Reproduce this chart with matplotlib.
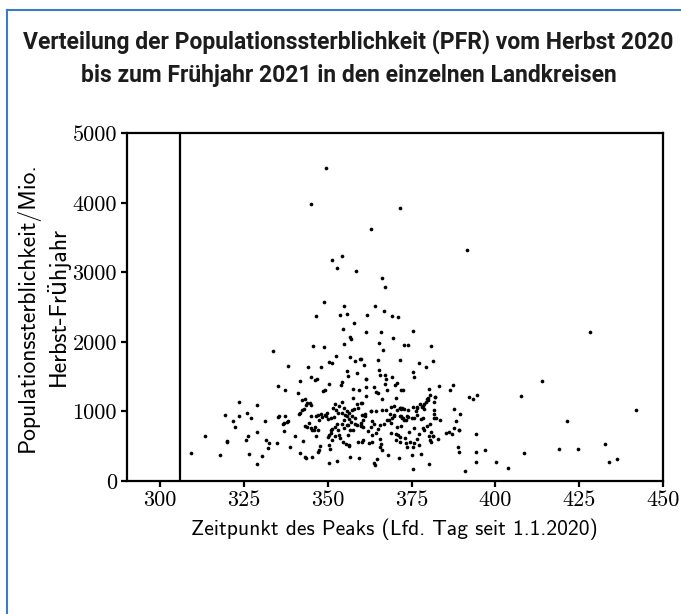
import matplotlib
matplotlib.use('Agg')
import matplotlib.pyplot as plt
from matplotlib.lines import Line2D
import numpy as np

# Peak day (days since 1.1.2020) and mortality per million
peak_day = [
    349.4, 345.0, 371.4, 362.9, 391.6, 351.3, 354.3, 352.6, 358.5, 366.2,
    367.1, 349.0, 354.9, 346.4, 353.5, 355.6, 364.2, 366.9, 369.1, 371.0,
    357.8, 361.7, 354.6, 356.7, 356.8, 361.5, 366.0, 369.5, 375.3, 333.6,
    345.5, 349.0, 354.8, 365.2, 372.7, 374.0, 380.9, 338.0, 344.1, 348.0,
    350.3, 351.4, 352.5, 356.5, 358.1, 359.5, 359.9, 360.8, 366.6, 364.9,
    371.4, 377.2, 379.4, 381.4, 375.3, 375.7, 335.1, 337.1, 341.7, 345.0,
    346.2, 346.7, 348.7, 349.2, 350.4, 353.9, 354.2, 355.6, 356.0, 358.8,
    357.6, 359.2, 361.5, 361.5, 361.4, 363.9, 364.3, 364.9, 365.2, 365.6,
    366.1, 367.1, 367.3, 367.0, 367.8, 369.3, 370.1, 370.6, 371.8, 372.3,
    370.4, 380.1, 380.0, 383.1, 381.9, 386.4, 387.2, 392.1, 393.3, 394.4,
    387.7, 389.5, 388.2, 389.0, 394.1, 387.1, 385.2, 386.3, 383.0, 380.9,
    381.3, 380.1, 380.8, 379.7, 380.5, 381.8, 382.2, 383.4, 381.7, 381.7,
    379.9, 380.4, 378.4, 378.7, 378.4, 377.7, 378.3, 378.6, 377.3, 376.5,
    375.7, 375.3, 377.3, 377.7, 375.0, 375.4, 380.3, 375.7, 374.2, 374.0,
    375.7, 376.6, 372.2, 371.5, 369.0, 369.7, 368.6, 367.3, 367.8, 371.5,
    372.2, 372.8, 373.4, 370.6, 371.7, 370.4, 370.8, 371.4, 371.6, 370.2,
    373.0, 373.2, 374.6, 373.7, 371.1, 368.8, 368.8, 366.9, 365.6, 365.0,
    363.9, 364.3, 363.2, 363.2, 365.5, 365.8, 365.6, 366.1, 364.8, 363.9,
    364.0, 368.1, 362.9, 363.3, 362.9, 361.2, 360.7, 361.9, 360.4, 359.8,
    360.0, 360.6, 360.3, 362.3, 359.0, 359.3, 356.6, 358.6, 359.1, 360.1,
    357.6, 357.9, 357.1, 357.2, 358.2, 358.1, 358.8, 356.3, 355.6, 354.7,
    354.3, 354.2, 355.0, 355.6, 354.9, 356.3, 357.0, 355.6, 356.0, 356.5,
    357.6, 354.7, 354.1, 353.2, 352.1, 351.7, 352.4, 352.9, 352.7, 352.1,
    351.4, 351.1, 352.9, 353.2, 352.2, 350.9, 350.4, 350.1, 351.4, 353.7,
    354.5, 355.3, 356.4, 356.2, 355.9, 350.3, 350.7, 350.3, 352.8, 349.5,
    349.1, 348.1, 347.1, 346.4, 347.4, 348.4, 349.9, 350.2, 350.9, 351.9,
    346.2, 345.9, 345.4, 344.9, 343.7, 343.2, 347.1, 346.6, 347.7, 347.1,
    347.5, 345.4, 343.6, 343.3, 341.7, 342.5, 340.3, 338.8, 341.3, 341.6,
    342.3, 343.0, 343.6, 343.9, 344.8, 344.9, 342.2, 343.1, 341.0, 344.4,
    344.9, 336.6, 337.0, 337.8, 338.2, 337.3, 335.0, 335.3, 336.8, 334.9,
    332.5, 332.3, 331.5, 331.2, 330.3, 328.8, 328.8, 328.9, 327.1, 326.6,
    325.6, 326.1, 325.8, 323.6, 323.4, 322.4, 321.8, 319.3, 319.9, 319.8,
    317.9, 313.4, 309.3,
    414.0, 407.7, 428.2, 421.4, 441.9, 419.0, 424.6, 432.7, 433.8, 436.4,
    408.6, 403.9, 400.3, 397.0, 394.3, 394.2, 388.9, 389.0, 390.9,
    361.4, 382.0, 381.8, 379.6, 379.3, 387.6, 389.2, 381.5, 380.4,
    359.8, 361.1, 360.3, 360.6, 359.8, 362.8, 364.5, 366.1,
    369.7, 370.5, 369.7, 369.2, 368.2, 371.4, 371.9, 372.7, 372.5, 371.7,
    373.5, 373.9, 375.2, 375.4, 376.7, 376.2, 376.7, 377.5, 378.0, 378.6,
]
mortality = [
    4503, 3981, 3924, 3622, 3315, 3176, 3229, 3061, 3013, 2918,
    2788, 2573, 2510, 2367, 2386, 2405, 2520, 2439, 2376, 2357,
    2276, 2391, 2185, 2065, 2041, 2137, 2146, 2060, 2151, 1869,
    1945, 1931, 1969, 1984, 1955, 1960, 1945, 1648, 1639, 1634,
    1706, 1696, 1792, 1782, 1730, 1758, 1749, 1672, 1878, 1744,
    1739, 1696, 1639, 1730, 1567, 1500, 1361, 1303, 1437, 1500,
    1452, 1471, 1289, 1308, 1390, 1371, 1418, 1581, 1514, 1552,
    1327, 1308, 1461, 1346, 1217, 1356, 1275, 1260, 1591, 1519,
    1179, 1390, 1461, 1524, 1299, 1490, 1380, 1404, 1308, 1303,
    1188, 1318, 1169, 1361, 1207, 1308, 1380, 1203, 1179, 1232,
    1030, 963, 853, 729, 676, 671, 690, 695, 595, 700,
    638, 647, 561, 791, 820, 901, 906, 877, 1025, 958,
    1193, 1241, 1069, 1030, 901, 882, 753, 729, 676, 599,
    542, 480, 508, 389, 374, 173, 245, 762, 700, 1011,
    901, 1045, 1050, 1040, 1059, 925, 963, 1021, 877, 925,
    901, 872, 877, 772, 781, 676, 652, 623, 561, 585,
    609, 542, 561, 480, 331, 686, 824, 815, 796, 743,
    820, 686, 657, 556, 595, 532, 480, 446, 312, 250,
    226, 365, 1006, 867, 777, 925, 949, 719, 767, 829,
    781, 590, 551, 542, 561, 331, 341, 1107, 1045, 1117,
    1184, 1030, 1021, 925, 901, 820, 805, 982, 1006, 1050,
    1126, 978, 944, 935, 877, 887, 848, 796, 805, 733,
    733, 757, 810, 1069, 1102, 1045, 1021, 973, 820, 772,
    748, 733, 733, 657, 647, 686, 652, 628, 580, 609,
    551, 532, 518, 494, 661, 508, 456, 254, 278, 925,
    949, 958, 949, 925, 877, 911, 973, 891, 901, 915,
    767, 733, 724, 757, 772, 786, 724, 637, 494, 408,
    446, 336, 331, 345, 393, 566, 647, 484, 954, 968,
    1011, 1035, 1093, 1117, 1117, 1088, 1155, 1174, 1260, 829,
    925, 820, 829, 839, 867, 925, 911, 925, 709, 542,
    542, 470, 590, 867, 360, 240, 695, 1093, 896, 384,
    590, 647, 968, 1126, 925, 767, 867, 939, 575, 556,
    374, 637, 398,
    1432, 1226, 2136, 857, 1016, 460, 460, 527, 263, 311,
    402, 187, 268, 441, 413, 264, 479, 412, 144,
    1471, 1212, 1126, 1183, 1140, 757, 733, 637, 580,
    1116, 963, 949, 877, 805, 997, 1006, 1021,
    1078, 1011, 949, 901, 877, 1044, 1030, 1035, 901, 925,
    935, 911, 901, 1068, 1068, 997, 939, 1107, 1058, 1102,
]

cutoff_day = 306

fig = plt.figure(figsize=(6.81, 6.14), dpi=100)
ax = fig.add_axes([0.186, 0.217, 0.7876, 0.566])

ax.scatter(peak_day, mortality, s=7, color='black', linewidths=0, zorder=3)
ax.axvline(cutoff_day, color='black', linewidth=1.6)

ax.set_xlim(290, 450)
ax.set_ylim(0, 5000)
ax.set_xticks(np.arange(300, 451, 25))
ax.set_yticks(np.arange(0, 5001, 1000))

for s in ax.spines.values():
    s.set_linewidth(1.6)
ax.tick_params(direction='out', length=4, width=1.6, top=False, right=False,
               labelsize=16, pad=3)
for lab in ax.get_xticklabels() + ax.get_yticklabels():
    lab.set_family('cmr10')

ax.set_xlabel('Zeitpunkt des Peaks (Lfd. Tag seit 1.1.2020)',
              family=['cmss10', 'DejaVu Sans'], fontsize=15.5, labelpad=6)
ax.set_ylabel('Populationssterblichkeit/Mio.\nHerbst-Frühjahr',
              family=['cmss10', 'DejaVu Sans'], fontsize=17, labelpad=2,
              linespacing=1.3)

title = ('Verteilung der Populationssterblichkeit (PFR) vom Herbst 2020\n'
         'bis zum Frühjahr 2021 in den einzelnen Landkreisen')
t = fig.text(0.512, 0.905, title, ha='center', va='center', fontsize=17,
             fontweight='bold', color='#1c1c1c', linespacing=1.55,
             family=['Roboto', 'DejaVu Sans'])
# shrink the title so its first line spans the same width as in the chart
fig.canvas.draw()
w = t.get_window_extent().width
if w > 650:
    t.set_fontsize(17 * 650 / w)

# blue frame (top and left edge)
blue = '#3a7cc8'
fig.add_artist(Line2D([0.0103, 1.0], [0.984, 0.984], color=blue, linewidth=1.5))
fig.add_artist(Line2D([0.0103, 0.0103], [0.0, 0.984], color=blue, linewidth=1.5))

fig.savefig('out.png', dpi=100)
